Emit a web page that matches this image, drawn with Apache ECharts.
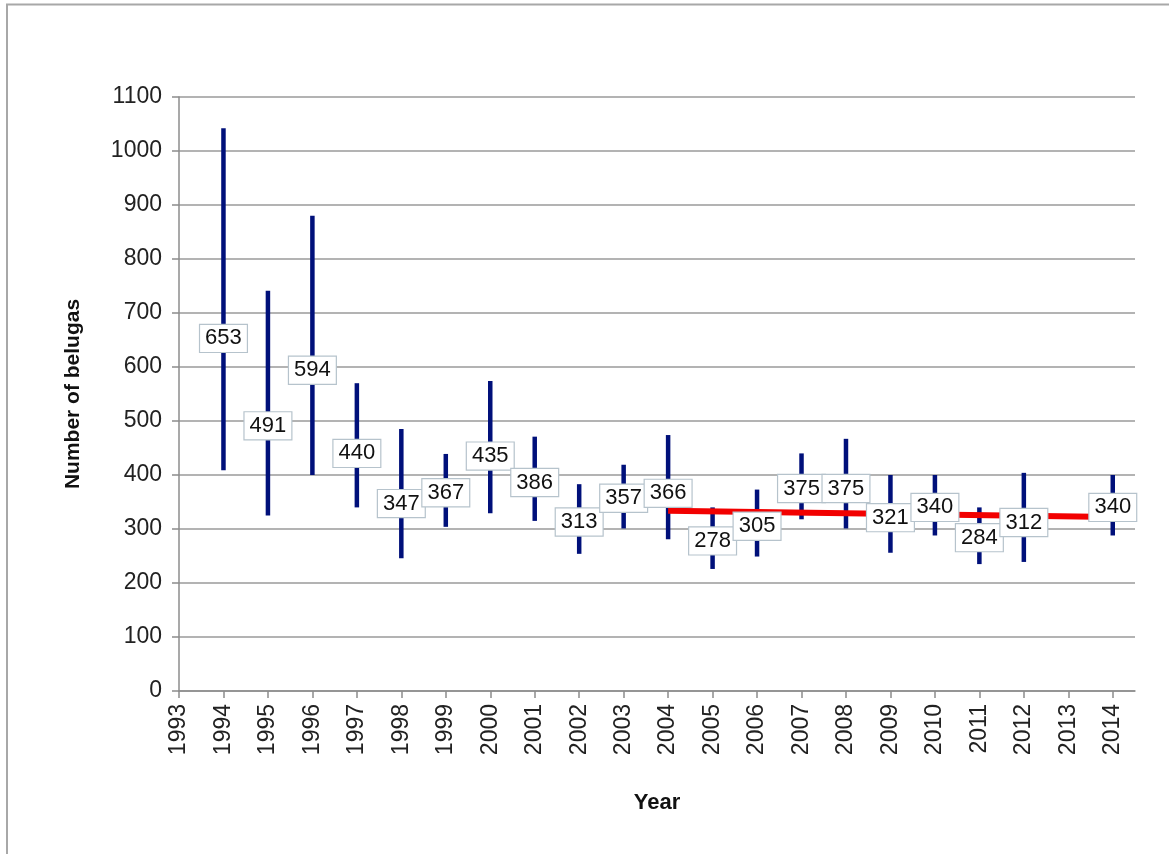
<!DOCTYPE html>
<html>
<head>
<meta charset="utf-8">
<title>Beluga abundance estimates</title>
<script src="https://cdn.jsdelivr.net/npm/echarts@6/dist/echarts.min.js"></script>
<style>
  html, body { margin: 0; padding: 0; background: #fff; }
  #chart { width: 1169px; height: 854px; }
</style>
</head>
<body>
<div id="chart"></div>
<script>
// Survey years, point estimates and the low/high bounds of each estimate
const years     = [1994, 1995, 1996, 1997, 1998, 1999, 2000, 2001, 2002, 2003, 2004, 2005, 2006, 2007, 2008, 2009, 2010, 2011, 2012, 2014];
const estimates = [653, 491, 594, 440, 347, 367, 435, 386, 313, 357, 366, 278, 305, 375, 375, 321, 340, 284, 312, 340];
const lowBound  = [409, 325, 400, 340, 246, 304, 329, 315, 254, 301, 281, 226, 249, 318, 301, 256, 288, 235, 239, 288];
const highBound = [1042, 741, 880, 570, 485, 439, 574, 471, 383, 419, 474, 340, 373, 440, 467, 400, 400, 340, 404, 400];

// Linear trend over the later period
const trendYears  = [2004, 2014];
const trendValues = [334, 322];

// Axis tick labels
const yearTicks = [];
for (let y = 1993; y <= 2014; y++) yearTicks.push(y);

const rangeData = years.map((y, i) => [y, lowBound[i], highBound[i]]);
const labelData = years.map((y, i) => [y, estimates[i]]);
const trendData = trendYears.map((y, i) => [y, trendValues[i]]);

const FONT = '"Liberation Sans", Arial, sans-serif';

const chart = echarts.init(document.getElementById('chart'), null, { renderer: 'canvas' });

chart.setOption({
  backgroundColor: '#ffffff',
  animation: false,
  graphic: [{
    type: 'rect',
    silent: true,
    z: -10,
    shape: { x: 7, y: 4.5, width: 1300, height: 1000 },
    style: { fill: 'none', stroke: '#a8a8a8', lineWidth: 2 }
  }],
  grid: { left: 179, right: 34, top: 97, bottom: 163, containLabel: false },
  xAxis: {
    type: 'value',
    min: 1993,
    max: 2014.5,
    name: 'Year',
    nameLocation: 'middle',
    nameGap: 101,
    nameTextStyle: { fontFamily: FONT, fontSize: 22, fontWeight: 'bold', color: '#111' },
    axisLine: { show: true, lineStyle: { color: '#8c8c8c', width: 1.5 } },
    axisTick: { show: true, length: 7, lineStyle: { color: '#8c8c8c', width: 1.5 }, customValues: yearTicks },
    axisLabel: {
      customValues: yearTicks,
      rotate: 90,
      margin: 13,
      fontFamily: FONT,
      fontSize: 23,
      color: '#222',
      formatter: v => String(v)
    },
    splitLine: { show: false }
  },
  yAxis: {
    type: 'value',
    min: 0,
    max: 1100,
    interval: 100,
    name: 'Number of belugas',
    nameLocation: 'middle',
    nameGap: 95,
    nameTextStyle: { fontFamily: FONT, fontSize: 21, fontWeight: 'bold', color: '#111' },
    axisLine: { show: true, lineStyle: { color: '#8c8c8c', width: 1.5 } },
    axisTick: { show: true, length: 7, lineStyle: { color: '#8c8c8c', width: 1.5 } },
    axisLabel: { margin: 17, fontFamily: FONT, fontSize: 23, color: '#222', formatter: v => String(v) },
    splitLine: { show: true, lineStyle: { color: '#9a9a9a', width: 1.5 } }
  },
  series: [
    {
      // vertical bars from the low to the high bound of each estimate
      type: 'custom',
      z: 2,
      data: rangeData,
      encode: { x: 0, y: [1, 2] },
      renderItem: function (params, api) {
        const p1 = api.coord([api.value(0), api.value(1)]);
        const p2 = api.coord([api.value(0), api.value(2)]);
        return {
          type: 'line',
          shape: { x1: p1[0], y1: p1[1], x2: p2[0], y2: p2[1] },
          style: { stroke: '#00107a', lineWidth: 4.5, lineCap: 'butt' }
        };
      }
    },
    {
      // trend line
      type: 'line',
      z: 3,
      data: trendData,
      symbol: 'none',
      lineStyle: { color: '#f20000', width: 6 }
    },
    {
      // boxed value labels at each point estimate
      type: 'scatter',
      z: 5,
      data: labelData,
      symbol: 'circle',
      symbolSize: 2,
      itemStyle: { color: 'rgba(0,0,0,0)', opacity: 1 },
      emphasis: { disabled: true },
      label: {
        show: true,
        position: 'inside',
        formatter: p => String(p.value[1]),
        fontFamily: FONT,
        fontSize: 22,
        color: '#111',
        backgroundColor: '#ffffff',
        borderColor: '#b6c3cc',
        borderWidth: 1.2,
        padding: [3, 5, 2, 5]
      }
    }
  ]
});
</script>
</body>
</html>
